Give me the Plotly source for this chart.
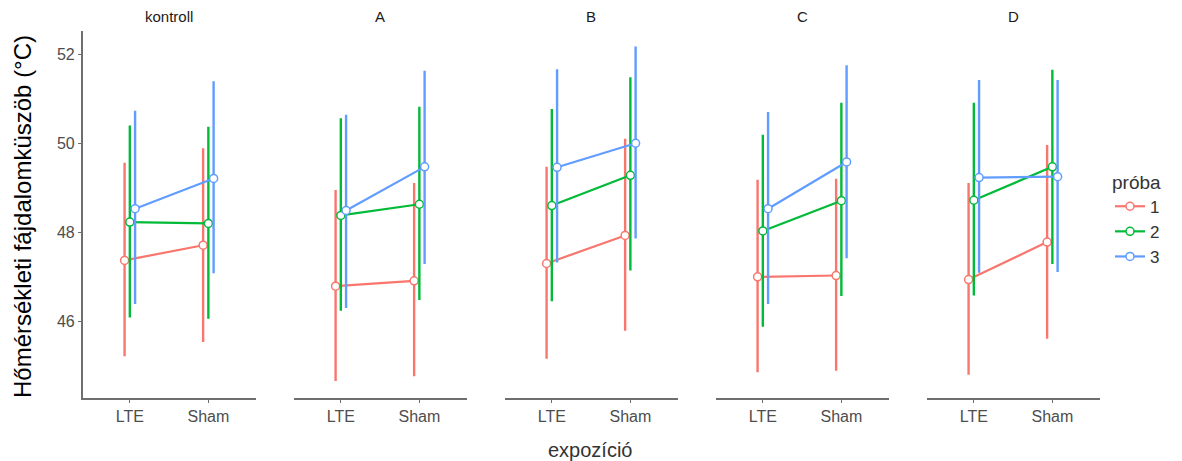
import plotly.graph_objects as go

panels = ["kontroll", "A", "B", "C", "D"]
categories = ["LTE", "Sham"]
groups = ["1", "2", "3"]
colors = {"1": "#F8766D", "2": "#00BA38", "3": "#619CFF"}

# mean values [panel][group] -> [LTE, Sham]
mean_1 = [[47.37, 47.71], [46.79, 46.91], [47.30, 47.93], [47.00, 47.03], [46.94, 47.78]]
mean_2 = [[48.23, 48.20], [48.38, 48.63], [48.60, 49.28], [48.03, 48.71], [48.72, 49.47]]
mean_3 = [[48.53, 49.21], [48.49, 49.47], [49.46, 50.00], [48.53, 49.58], [49.23, 49.25]]
upper_1 = [[49.56, 49.89], [48.95, 49.11], [49.47, 50.10], [49.18, 49.20], [49.11, 49.96]]
upper_2 = [[50.40, 50.37], [50.56, 50.82], [50.77, 51.48], [50.19, 50.91], [50.91, 51.65]]
upper_3 = [[50.73, 51.39], [50.64, 51.63], [51.66, 52.17], [50.70, 51.75], [51.42, 51.42]]
lower_1 = [[45.22, 45.54], [44.66, 44.77], [45.16, 45.79], [44.86, 44.89], [44.80, 45.61]]
lower_2 = [[46.09, 46.06], [46.24, 46.48], [46.45, 47.14], [45.88, 46.57], [46.58, 47.29]]
lower_3 = [[46.39, 47.08], [46.30, 47.29], [47.32, 47.86], [46.39, 47.42], [47.09, 47.11]]

means = {"1": mean_1, "2": mean_2, "3": mean_3}
uppers = {"1": upper_1, "2": upper_2, "3": upper_3}
lowers = {"1": lower_1, "2": lower_2, "3": lower_3}

W, H = 1182, 461
dodge = {"1": -0.0667, "2": 0.0, "3": 0.0667}
FONT = "Liberation Sans, Arial, sans-serif"

fig = go.Figure()
tick_font = dict(family=FONT, size=16, color="#4d4d4d")
axis_col = "#6e6e6e"

for i, p in enumerate(panels):
    xa = "x" if i == 0 else f"x{i+1}"
    for g in groups:
        xs = [k + 1 + dodge[g] for k in range(len(categories))]
        ys = means[g][i]
        up = [u - m for u, m in zip(uppers[g][i], ys)]
        dn = [m - l for l, m in zip(lowers[g][i], ys)]
        fig.add_trace(go.Scatter(
            x=xs, y=ys, xaxis=xa, yaxis="y",
            mode="lines+markers", name=g, legendgroup=g, showlegend=(i == 0),
            line=dict(color=colors[g], width=2.2),
            marker=dict(symbol="circle", size=8, color="white",
                        line=dict(color=colors[g], width=1.5)),
            error_y=dict(type="data", symmetric=False, array=up, arrayminus=dn,
                         color=colors[g], thickness=2.4, width=0),
            hoverinfo="skip",
        ))
    left = 82.7 + 211 * i
    right = left + 172.8
    ax = dict(domain=[left / W, right / W], range=[0.4, 2.6], anchor="y",
              tickvals=[1, 2], ticktext=categories, tickfont=tick_font,
              showline=True, linecolor=axis_col, linewidth=1.6, ticks="outside",
              ticklen=3, tickcolor=axis_col, showgrid=False, zeroline=False, fixedrange=True)
    fig.update_layout(**{("xaxis" if i == 0 else f"xaxis{i+1}"): ax})
    fig.add_annotation(x=(left + right) / 2 / W, y=1 - 16 / H, xref="paper", yref="paper",
                       text=p, showarrow=False, xanchor="center", yanchor="middle",
                       font=dict(family=FONT, size=15, color="#1a1a1a"))

ybot, ytop = 398, 31
fig.update_layout(
    yaxis=dict(domain=[1 - ybot / H, 1 - ytop / H], range=[44.28, 52.52], anchor="x",
               tickvals=[46, 48, 50, 52], tickfont=tick_font, showline=True,
               linecolor=axis_col, linewidth=1.6, ticks="outside", ticklen=3,
               tickcolor=axis_col, showgrid=False, zeroline=False),
    width=W, height=H,
    margin=dict(l=0, r=0, t=0, b=0),
    plot_bgcolor="white", paper_bgcolor="white",
    legend=dict(x=1110 / W, y=1 - 164 / H, xanchor="left", yanchor="top",
                title=dict(text="próba", font=dict(family=FONT, size=19, color="#333333")),
                font=dict(family=FONT, size=17, color="#333333"),
                itemwidth=30, tracegroupgap=0, bgcolor="rgba(0,0,0,0)"),
)
fig.add_annotation(x=22 / W, y=1 - 217 / H, xref="paper", yref="paper",
                   text="Hőmérsékleti fájdalomküszöb (°C)", textangle=-90,
                   showarrow=False, xanchor="center", yanchor="middle",
                   font=dict(family=FONT, size=24, color="#000000"))
fig.add_annotation(x=590 / W, y=1 - 450 / H, xref="paper", yref="paper", text="expozíció",
                   showarrow=False, xanchor="center", yanchor="middle",
                   font=dict(family=FONT, size=20, color="#333333"))

fig.write_html("out.html")
